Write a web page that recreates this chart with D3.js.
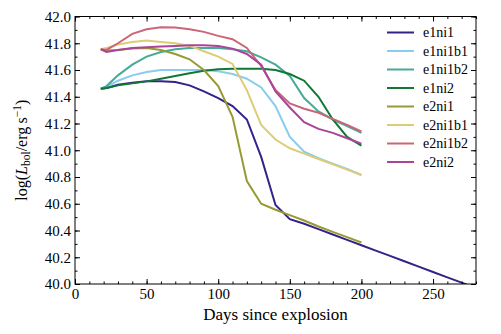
<!DOCTYPE html>
<html>
<head>
<meta charset="utf-8">
<script src="https://cdn.jsdelivr.net/npm/d3@7"></script>
<style>
body { margin: 0; background: white; }
svg text { font-family: "Liberation Serif", "DejaVu Serif", serif; fill: black; }
</style>
</head>
<body>
<div id="chart"></div>
<script>
// sample days shared by every model
var days = [18, 22, 30, 40, 50, 60, 70, 80, 90, 100, 110, 120, 130, 140, 150, 160, 170, 180, 190, 200];
// e1ni1 keeps going after day 200
var daysLong = days.concat([210, 220, 230, 240, 250, 260, 270, 276]);

var e1ni1   = [41.46, 41.465, 41.49, 41.505, 41.515, 41.515, 41.51, 41.485, 41.44, 41.39, 41.33, 41.23, 40.95, 40.59, 40.485, 40.45, 40.41, 40.37, 40.33, 40.29,
               40.25, 40.21, 40.17, 40.13, 40.09, 40.05, 40.01, 39.985];
var e1ni1b1 = [41.46, 41.475, 41.52, 41.56, 41.585, 41.6, 41.6, 41.6, 41.6, 41.59, 41.57, 41.535, 41.47, 41.33, 41.1, 40.99, 40.94, 40.9, 40.86, 40.815];
var e1ni1b2 = [41.46, 41.48, 41.56, 41.64, 41.70, 41.735, 41.755, 41.765, 41.765, 41.765, 41.755, 41.74, 41.695, 41.64, 41.555, 41.39, 41.29, 41.23, 41.18, 41.13];
var e1ni2   = [41.46, 41.465, 41.485, 41.5, 41.515, 41.535, 41.555, 41.575, 41.595, 41.605, 41.61, 41.61, 41.61, 41.60, 41.57, 41.52, 41.40, 41.23, 41.1, 41.035];
var e2ni1   = [41.755, 41.745, 41.75, 41.76, 41.765, 41.75, 41.72, 41.68, 41.6, 41.48, 41.25, 40.77, 40.6, 40.555, 40.515, 40.475, 40.43, 40.39, 40.35, 40.31];
var e2ni1b1 = [41.755, 41.765, 41.79, 41.81, 41.82, 41.81, 41.80, 41.78, 41.74, 41.70, 41.645, 41.45, 41.19, 41.08, 41.015, 40.975, 40.935, 40.895, 40.855, 40.815];
var e2ni1b2 = [41.755, 41.75, 41.80, 41.87, 41.905, 41.92, 41.918, 41.905, 41.885, 41.855, 41.83, 41.765, 41.63, 41.45, 41.35, 41.31, 41.28, 41.235, 41.19, 41.14];
var e2ni2   = [41.755, 41.735, 41.75, 41.765, 41.77, 41.775, 41.78, 41.785, 41.785, 41.78, 41.76, 41.72, 41.64, 41.44, 41.32, 41.21, 41.16, 41.13, 41.09, 41.05];

var names  = ["e1ni1", "e1ni1b1", "e1ni1b2", "e1ni2", "e2ni1", "e2ni1b1", "e2ni1b2", "e2ni2"];
var colors = ["#332288", "#88CCEE", "#44AA99", "#117733", "#999933", "#DDCC77", "#CC6677", "#AA4499"];
var xTicks = [0, 50, 100, 150, 200, 250];
var yTicks = [40.0, 40.2, 40.4, 40.6, 40.8, 41.0, 41.2, 41.4, 41.6, 41.8, 42.0];

var values = [e1ni1, e1ni1b1, e1ni1b2, e1ni2, e2ni1, e2ni1b1, e2ni1b2, e2ni2];
var models = names.map(function(name, i) {
    var d = (name == "e1ni1") ? daysLong : days;
    return {name: name, color: colors[i],
            points: values[i].map(function(v, j) { return [d[j], v]; })};
});

var screen = {width: 501, height: 334};
var margins = {top: 16.5, bottom: 50, left: 75, right: 25};
var graph = {
    width: screen.width - margins.left - margins.right,
    height: screen.height - margins.top - margins.bottom
};

var svg = d3.select("#chart")
    .append("svg")
    .attr("width", screen.width)
    .attr("height", screen.height);

var xScale = d3.scaleLinear().domain([0, 280]).range([0, graph.width]);
var yScale = d3.scaleLinear().domain([40, 42]).range([graph.height, 0]);

var g = svg.append("g")
    .attr("transform", "translate(" + margins.left + "," + margins.top + ")");

// clip so the tail of e1ni1 stops at the axis
g.append("clipPath").attr("id", "clip")
    .append("rect").attr("width", graph.width).attr("height", graph.height);

var line = d3.line()
    .x(function(p) { return xScale(p[0]); })
    .y(function(p) { return yScale(p[1]); });

g.append("g").attr("clip-path", "url(#clip)")
    .selectAll("path")
    .data(models)
    .enter()
    .append("path")
    .attr("d", function(m) { return line(m.points); })
    .attr("fill", "none")
    .attr("stroke", function(m) { return m.color; })
    .attr("stroke-width", 2);

// axes: ticks pointing inward on all four sides
var minorX = d3.range(0, 281, 10);
var minorY = d3.range(40, 42.001, 0.1);

var addAxis = function(axis, transform, major, minor, labels, pad) {
    var a = g.append("g").attr("transform", transform);
    a.call(axis.tickValues(minor).tickSize(-2.5).tickFormat(""));
    a.select(".domain").remove();
    var b = g.append("g").attr("transform", transform);
    b.call(axis.tickValues(major).tickSize(-5).tickPadding(pad).tickFormat(labels));
    b.select(".domain").remove();
    b.selectAll("text").attr("font-size", 15).attr("font-family", null);
    b.selectAll("line").attr("stroke-width", 1);
};

addAxis(d3.axisBottom(xScale), "translate(0," + graph.height + ")", xTicks, minorX, d3.format("d"), 4);
addAxis(d3.axisTop(xScale), "translate(0,0)", xTicks, minorX, "", 4);
addAxis(d3.axisLeft(yScale), "translate(0,0)", yTicks, minorY, d3.format(".1f"), 4);
addAxis(d3.axisRight(yScale), "translate(" + graph.width + ",0)", yTicks, minorY, "", 4);

g.append("rect")
    .attr("width", graph.width)
    .attr("height", graph.height)
    .attr("fill", "none")
    .attr("stroke", "black")
    .attr("stroke-width", 1);

// axis titles
svg.append("text")
    .attr("x", margins.left + graph.width / 2)
    .attr("y", 320)
    .attr("text-anchor", "middle")
    .attr("font-size", 17)
    .text("Days since explosion");

var ylab = svg.append("text")
    .attr("transform", "translate(27," + (margins.top + graph.height / 2) + ") rotate(-90)")
    .attr("text-anchor", "middle")
    .attr("font-size", 16);
ylab.append("tspan").text("log(");
ylab.append("tspan").attr("font-style", "italic").text("L");
ylab.append("tspan").attr("font-size", 11.5).attr("dy", 3).text("bol");
ylab.append("tspan").attr("dy", -3).text("/erg\u2009s");
ylab.append("tspan").attr("font-size", 11.5).attr("dy", -6).text("\u22121");
ylab.append("tspan").attr("dy", 6).text(")");

// legend
var legend = svg.append("g").attr("transform", "translate(387,32.5)");
var rows = legend.selectAll("g")
    .data(models)
    .enter()
    .append("g")
    .attr("transform", function(m, i) { return "translate(0," + (i * 18.5) + ")"; });
rows.append("line")
    .attr("x1", 0).attr("x2", 27)
    .attr("stroke", function(m) { return m.color; })
    .attr("stroke-width", 2);
rows.append("text")
    .attr("x", 36)
    .attr("y", 4.5)
    .attr("font-size", 14)
    .text(function(m) { return m.name; });
</script>
</body>
</html>
